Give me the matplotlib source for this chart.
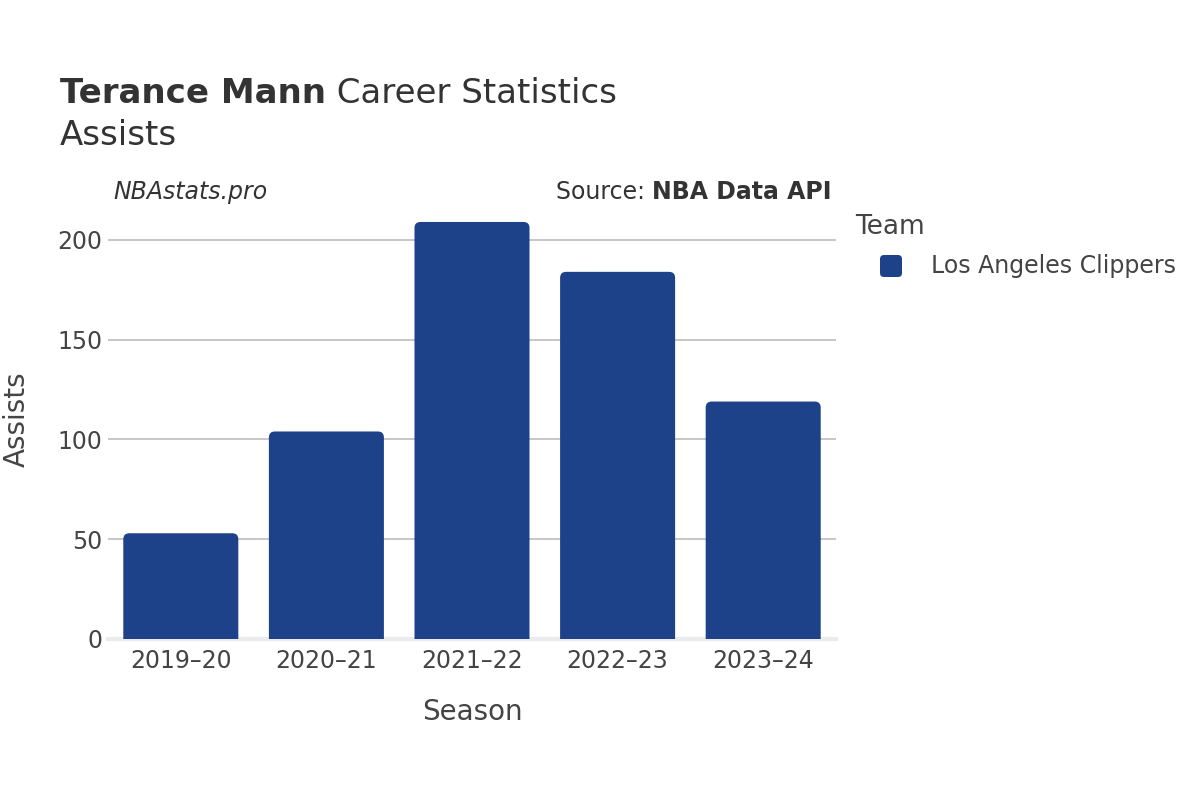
import matplotlib
import matplotlib.pyplot as plt
from matplotlib.patches import FancyBboxPatch

matplotlib.use("Agg")
plt.rcParams["font.family"] = ["DejaVu Sans"]

# data
seasons = ["2019–20", "2020–21", "2021–22", "2022–23", "2023–24"]
assists = [53, 104, 209, 184, 119]
team = "Los Angeles Clippers"
team_color = "#1d428a"

TITLE_COL = "#333333"
TEXT_COL = "#444444"

fig = plt.figure(figsize=(12, 8), dpi=100)
ax = fig.add_axes([108 / 1200, 1 - 639 / 800, 728 / 1200, 439 / 800])

x = list(range(len(seasons)))
bars = ax.bar(x, assists, width=0.79, color=team_color)

# swap the plain bars for ones with rounded top corners
# (extend below zero so the bottom corners get clipped off)
x_per_px = 5 / 728
y_per_px = 220 / 439
r = 6 * x_per_px
for b in bars:
    bx, bw, bh = b.get_x(), b.get_width(), b.get_height()
    ext = 8 * y_per_px
    rb = FancyBboxPatch(
        (bx, -ext), bw, bh + ext,
        boxstyle=f"round,pad=0,rounding_size={r}",
        mutation_aspect=y_per_px / x_per_px,
        facecolor=team_color, edgecolor="none", zorder=2,
    )
    ax.add_patch(rb)
    b.set_visible(False)

ax.set_xlim(-0.5, 4.5)
ax.set_ylim(0, 220)
ax.set_xticks(x)
ax.set_xticklabels(seasons)
ax.set_yticks([0, 50, 100, 150, 200])

ax.grid(axis="y", color="#bdbdbd", linewidth=1.2, zorder=0)
ax.set_axisbelow(True)
ax.axhline(0, color="#ebebeb", linewidth=3, zorder=1, clip_on=False)

for s in ax.spines.values():
    s.set_visible(False)
ax.tick_params(axis="both", length=0, labelsize=17, labelcolor=TEXT_COL)
ax.tick_params(axis="x", pad=7)
ax.tick_params(axis="y", pad=4)

ax.set_xlabel("Season", fontsize=20, color=TEXT_COL)
ax.set_ylabel("Assists", fontsize=20, color=TEXT_COL)
ax.xaxis.set_label_coords(0.5, (639 - 712) / 439)
ax.xaxis.label.set_va("center")
ax.yaxis.set_label_coords((17 - 108) / 728, 0.5)
ax.yaxis.label.set_va("center")

# title, bold name followed by regular text
renderer = fig.canvas.get_renderer()
t1 = fig.text(60 / 1200, 1 - 103 / 800, "Terance Mann", fontsize=24.5,
              fontweight="bold", color=TITLE_COL, va="baseline")
x1 = t1.get_window_extent(renderer).x1 / fig.bbox.width
fig.text(x1, 1 - 103 / 800, " Career Statistics", fontsize=24.5,
         color=TITLE_COL, va="baseline")
fig.text(60 / 1200, 1 - 145 / 800, "Assists", fontsize=24.5,
         color=TITLE_COL, va="baseline")

# watermark and source line
fig.text(113 / 1200, 1 - 199 / 800, "NBAstats.pro", fontsize=17,
         style="italic", color=TITLE_COL, va="baseline")
t2 = fig.text(832 / 1200, 1 - 199 / 800, "NBA Data API", fontsize=17,
              fontweight="bold", color=TITLE_COL, va="baseline", ha="right")
x0 = t2.get_window_extent(renderer).x0 / fig.bbox.width
fig.text(x0, 1 - 199 / 800, "Source: ", fontsize=17, color=TITLE_COL,
         va="baseline", ha="right")

# legend, laid out by hand like the plotly one
fig.text(855 / 1200, 1 - 227 / 800, "Team", fontsize=19,
         color=TEXT_COL, va="center")
fig.patches.append(FancyBboxPatch(
    (880 / 1200, 1 - 277 / 800), 22 / 1200, 22 / 800,
    boxstyle=f"round,pad=0,rounding_size={4 / 1200}",
    mutation_aspect=1200 / 800,
    transform=fig.transFigure, figure=fig,
    facecolor=team_color, edgecolor="none",
))
fig.text(931 / 1200, 1 - 266 / 800, team, fontsize=17,
         color=TEXT_COL, va="center")

fig.savefig("out.png", dpi=100)
